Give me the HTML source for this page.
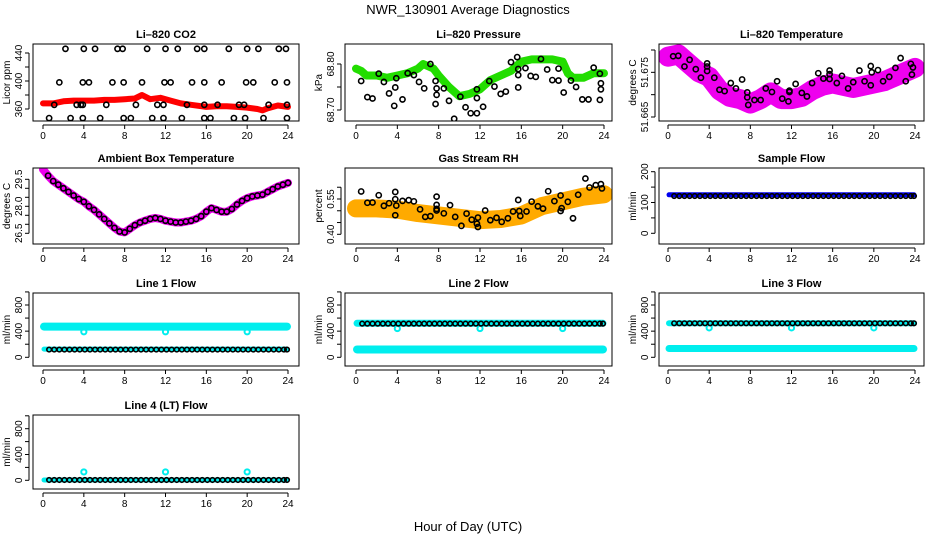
<!DOCTYPE html>
<html><head><meta charset="utf-8">
<style>
html,body{margin:0;padding:0;background:#fff;}
svg{display:block;font-family:"Liberation Sans",sans-serif;}
</style></head>
<body>
<svg id="chart" width="936" height="540" viewBox="0 0 936 540">
<text x="468" y="14" text-anchor="middle" font-size="13">NWR_130901  Average Diagnostics</text>
<text x="468" y="531" text-anchor="middle" font-size="13">Hour of Day (UTC)</text>
</svg>
<script>
// ---------- data ----------
const xTickHours = [0,4,8,12,16,20,24];

// CO2
const co2BandHours = [0,1,2,3,4,5,6,7,8,9,9.7,10.5,11.5,12.5,13.5,14.5,16,17,18,19,20,21,21.5,22,23,24];
const co2BandVals  = [368,368,371,372,372,372,373,373,374,375,380,374,376,372,368,366,363,364,364,363,362,360,358,361,365,363];
const co2PtHours = [2.2,4,5.1,7.3,7.8,10.2,12,13.2,15.1,15.8,18.2,20,21.1,23.1,23.8,
  1.6,3.9,4.5,6.8,7.9,9.7,11.9,12.5,14.6,15.8,17.5,19.9,20.6,22.7,23.9,
  1.1,3.3,3.7,3.9,6.2,9.1,11.2,11.8,14.1,15.8,17.1,19.2,19.7,22.1,23.9,
  0.6,2.7,3.9,5.6,7.9,8.6,10.7,11.8,13.6,15.8,16.4,18.7,19.8,21.6,23.9];
const co2PtVals = [446,446,446,446,446,446,446,446,446,446,446,446,446,446,446,
  398,398,398,398,398,398,398,398,398,398,398,398,398,398,398,
  366,366,366,366,366,366,366,366,366,366,366,366,366,366,366,
  347,347,347,347,347,347,347,347,347,347,347,347,347,347,347];

// Pressure
const presBandHours = [0,0.5,1,2,3,4,5,6,6.5,7.5,8,9,10,11,12,13,14,15,16,17,18,19,20,20.5,21,22,23,24];
const presBandVals  = [68.79,68.785,68.775,68.775,68.77,68.775,68.78,68.79,68.80,68.79,68.775,68.75,68.73,68.735,68.745,68.765,68.775,68.785,68.805,68.81,68.81,68.81,68.805,68.78,68.77,68.77,68.78,68.78];
const presPtHours = [0.5,1.1,1.6,2.2,2.7,3.2,3.7,3.8,3.9,4.5,5.0,5.6,6.1,6.6,7.2,7.7,7.7,7.8,7.8,8.5,9.0,9.5,10.1,10.6,11.1,11.7,11.7,11.7,12.3,12.9,13.4,14.0,14.5,15.0,15.6,15.7,15.7,15.7,16.4,16.9,17.4,17.9,18.5,19.0,19.6,19.6,20.1,20.8,21.3,21.9,22.5,23.0,23.6,23.6,23.7,23.7];
const presPtVals = [68.763,68.728,68.725,68.779,68.761,68.736,68.709,68.749,68.769,68.723,68.780,68.776,68.761,68.747,68.800,68.763,68.713,68.733,68.747,68.747,68.720,68.681,68.729,68.706,68.693,68.693,68.726,68.745,68.707,68.763,68.751,68.735,68.740,68.804,68.815,68.789,68.749,68.776,68.791,68.774,68.772,68.811,68.788,68.765,68.764,68.790,68.738,68.764,68.750,68.723,68.723,68.792,68.779,68.722,68.745,68.758];

// Li-820 Temperature
const tempBandHours = [0,1,2,3,4,5,6,7,8,9,10,11,12,13,14,15,16,17,18,19,20,21,22,23,24];
const tempBandVals  = [51.6785,51.679,51.677,51.675,51.674,51.671,51.6695,51.669,51.668,51.669,51.6705,51.669,51.669,51.6695,51.671,51.672,51.6725,51.672,51.6715,51.672,51.6725,51.673,51.674,51.675,51.676];
const tempPtHours = [0.5,1.0,1.6,2.1,2.7,3.2,3.8,3.8,3.8,4.5,5.0,5.5,6.1,6.6,7.2,7.7,7.7,7.8,8.4,9.0,9.5,10.1,10.6,11.1,11.7,11.8,11.8,12.4,13.0,13.5,14.0,14.6,15.1,15.7,15.7,15.7,16.4,16.9,17.5,18.0,18.6,19.1,19.7,19.7,19.8,20.4,20.9,21.5,22.1,22.6,23.1,23.6,23.7,23.8];
const tempPtVals = [51.6786,51.6787,51.6763,51.6778,51.6757,51.6738,51.6770,51.6763,51.6753,51.6738,51.6711,51.6708,51.6726,51.6714,51.6734,51.6705,51.6694,51.6677,51.6688,51.6688,51.6714,51.6706,51.6730,51.6691,51.6685,51.6709,51.6706,51.6724,51.6704,51.6696,51.6726,51.6748,51.6736,51.6735,51.6746,51.6754,51.6726,51.6742,51.6714,51.6728,51.6754,51.6730,51.6721,51.6764,51.6750,51.6755,51.6730,51.6740,51.6760,51.6782,51.6730,51.6769,51.6745,51.6761];

// Ambient box temperature (half-hour)
const ambHours = [0,0.5,1,1.5,2,2.5,3,3.5,4,4.5,5,5.5,6,6.5,7,7.5,8,8.5,9,9.5,10,10.5,11,11.5,12,12.5,13,13.5,14,14.5,15,15.5,16,16.5,17,17.5,18,18.5,19,19.5,20,20.5,21,21.5,22,22.5,23,23.5,24];
const ambVals  = [30.05,29.7,29.4,29.2,29.0,28.8,28.6,28.4,28.25,28.0,27.8,27.55,27.3,27.05,26.8,26.6,26.55,
  26.75,26.95,27.1,27.2,27.3,27.35,27.3,27.2,27.15,27.1,27.1,27.15,27.2,27.3,27.45,27.7,
  27.9,27.8,27.7,27.7,27.85,28.1,28.3,28.45,28.55,28.6,28.65,28.8,28.95,29.1,29.2,29.3];

// Gas stream RH
const rhBandHours = [0,2,4,6,8,10,12,14,16,18,20,22,24];
const rhBandVals  = [0.51,0.51,0.505,0.49,0.48,0.47,0.46,0.465,0.48,0.52,0.54,0.56,0.57];
const rhPtHours = [0.5,1.1,1.6,2.2,2.7,3.2,3.8,3.8,3.9,3.8,4.5,5.1,5.6,6.2,6.7,7.2,7.8,7.8,7.8,7.8,8.5,9.1,9.6,10.2,10.7,11.2,11.7,11.8,11.8,12.5,13.0,13.6,14.1,14.7,15.2,15.7,15.8,15.9,16.5,17.0,17.6,18.1,18.6,19.2,19.8,19.8,19.9,20.5,21.0,21.5,22.2,22.6,23.2,23.7,23.8];
const rhPtVals = [0.582,0.534,0.535,0.566,0.521,0.532,0.580,0.549,0.522,0.481,0.542,0.545,0.540,0.506,0.474,0.477,0.560,0.525,0.508,0.501,0.489,0.524,0.474,0.436,0.488,0.462,0.445,0.471,0.431,0.501,0.460,0.470,0.453,0.468,0.497,0.546,0.499,0.478,0.497,0.539,0.519,0.509,0.583,0.541,0.565,0.499,0.511,0.538,0.468,0.568,0.637,0.599,0.609,0.613,0.595];

// Flows
const flowHours = [0.6,1.1,1.6,2.1,2.6,3.1,3.6,4.1,4.6,5.1,5.6,6.1,6.6,7.1,7.6,8.1,8.6,9.1,9.6,10.1,10.6,11.1,11.6,12.1,12.6,13.1,13.6,14.1,14.6,15.1,15.6,16.1,16.6,17.1,17.6,18.1,18.6,19.1,19.6,20.1,20.6,21.1,21.6,22.1,22.6,23.1,23.6,23.9];
const bandEnds = [0.1,23.9];
const outlierHours = [4,12,20];
const sampleBlue = [125,125];
const sampleBlack = Array(48).fill(121);
const line1CyanHi = [470,470];
const line1CyanLo = [125,125];
const line1Black = Array(48).fill(118);
const line1Out = [390,390,390];
const line2CyanHi = [520,520];
const line2CyanLo = [120,120];
const line2Black = Array(48).fill(515);
const line2Out = [440,440,440];
const line3CyanHi = [520,520];
const line3CyanLo = [135,135];
const line3Black = Array(48).fill(520);
const line3Out = [450,450,450];
const line4Cyan = [5,5];
const line4Black = Array(48).fill(5);
const line4Out = [130,130,130];

// ---------- drawing ----------
const svg = document.getElementById('chart');
const NS = 'http://www.w3.org/2000/svg';
function mk(tag, parent){ const e=document.createElementNS(NS,tag); parent.appendChild(e); return e; }

const cols = [{l:33,r:299,x0:43,x24:288},{l:345,r:612,x0:356,x24:604},{l:659,r:924,x0:668,x24:915}];
const rows = [{t:44,b:121},{t:168,b:244},{t:293,b:366},{t:415,b:489}];

function panel(opt){
  const c=cols[opt.col], r=rows[opt.row];
  const g=mk('g',svg);
  
  
  const sx=h=>c.x0+(h/24)*(c.x24-c.x0);
  const sy=v=>opt.p1+(v-opt.v1)*(opt.p2-opt.p1)/(opt.v2-opt.v1);
  const clip=mk('clipPath',g); clip.setAttribute('id','clip'+opt.name);
  const cr=mk('rect',clip); cr.setAttribute('x',c.l); cr.setAttribute('y',r.t); cr.setAttribute('width',c.r-c.l); cr.setAttribute('height',r.b-r.t);
  const plot=mk('g',g); plot.setAttribute('clip-path','url(#clip'+opt.name+')');
  const P={g:plot,sx,sy};
  opt.draw(P);
  const fr=mk('rect',g);
  
  
  fr.setAttribute('x',c.l); fr.setAttribute('y',r.t); fr.setAttribute('width',c.r-c.l); fr.setAttribute('height',r.b-r.t);
  fr.setAttribute('fill','none'); fr.setAttribute('stroke','#000'); fr.setAttribute('stroke-width','1');
  const t=mk('text',g);
  
  
  t.setAttribute('x',(c.l+c.r)/2); t.setAttribute('y',r.t-6); t.setAttribute('text-anchor','middle');
  t.setAttribute('font-size','11'); t.setAttribute('font-weight','bold'); t.textContent=opt.title;
  const xa=mk('g',g);
  
  
  const xl=mk('line',xa); xl.setAttribute('x1',sx(0)); xl.setAttribute('x2',sx(24)); xl.setAttribute('y1',r.b+4); xl.setAttribute('y2',r.b+4); xl.setAttribute('stroke','#000');
  xTickHours.forEach(h=>{
    const tk=mk('line',xa); tk.setAttribute('x1',sx(h)); tk.setAttribute('x2',sx(h)); tk.setAttribute('y1',r.b+4); tk.setAttribute('y2',r.b+8); tk.setAttribute('stroke','#000');
    const tl=mk('text',xa);
    
    
    tl.setAttribute('x',sx(h)); tl.setAttribute('y',r.b+18); tl.setAttribute('text-anchor','middle'); tl.setAttribute('font-size','10'); tl.textContent=h;
  });
  const ya=mk('g',g);
  
  
  const yl=mk('line',ya); yl.setAttribute('x1',c.l-4); yl.setAttribute('x2',c.l-4); yl.setAttribute('y1',sy(opt.ticks[0])); yl.setAttribute('y2',sy(opt.ticks[opt.ticks.length-1])); yl.setAttribute('stroke','#000');
  opt.ticks.forEach(v=>{
    const tk=mk('line',ya); tk.setAttribute('x1',c.l-8); tk.setAttribute('x2',c.l-4); tk.setAttribute('y1',sy(v)); tk.setAttribute('y2',sy(v)); tk.setAttribute('stroke','#000');
  });
  opt.labels.forEach((lab,i)=>{
    const y=sy(opt.labelVals[i]);
    const tl=mk('text',ya);
    
    
    tl.setAttribute('transform','translate('+(c.l-11)+','+y+') rotate(-90)'); tl.setAttribute('text-anchor','middle'); tl.setAttribute('font-size','10'); tl.textContent=lab;
  });
  const yt=mk('text',ya);
  
  
  yt.setAttribute('transform','translate('+(c.l-23)+','+((r.t+r.b)/2)+') rotate(-90)'); yt.setAttribute('text-anchor','middle'); yt.setAttribute('font-size','10'); yt.textContent=opt.ylab;
}

function band(P,hs,vs,color,w,name){
  const pl=mk('polyline',P.g);
  
  
  pl.setAttribute('points',hs.map((h,i)=>P.sx(h)+','+P.sy(vs[i])).join(' '));
  pl.setAttribute('fill','none'); pl.setAttribute('stroke',color); pl.setAttribute('stroke-width',w);
  pl.setAttribute('stroke-linejoin','round'); pl.setAttribute('stroke-linecap','round');
}
function pts(P,hs,vs,color,name,rad,sw){
  hs.forEach((h,i)=>{
    const c=mk('circle',P.g);
    
    
    c.setAttribute('cx',P.sx(h)); c.setAttribute('cy',P.sy(vs[i])); c.setAttribute('r',rad||2.6);
    c.setAttribute('fill','none'); c.setAttribute('stroke',color); c.setAttribute('stroke-width',sw||1.6);
  });
}

panel({name:'co2-panel',col:0,row:0,title:'Li\u2013820 CO2',ylab:'Licor ppm',v1:360,p1:109,v2:400,p2:81,
  ticks:[360,380,400,420,440],labels:['360','400','440'],labelVals:[360,400,440],
  draw:P=>{ band(P,co2BandHours,co2BandVals,'#ff0000',6,'co2-band'); pts(P,co2PtHours,co2PtVals,'#000','co2-average-point'); }});
panel({name:'pressure-panel',col:1,row:0,title:'Li\u2013820 Pressure',ylab:'kPa',v1:68.70,p1:110,v2:68.80,p2:64,
  ticks:[68.70,68.75,68.80],labels:['68.70','68.80'],labelVals:[68.70,68.80],
  draw:P=>{ band(P,presBandHours,presBandVals,'#22dd00',8,'pressure-band'); pts(P,presPtHours,presPtVals,'#000','pressure-average-point'); }});
panel({name:'temperature-panel',col:2,row:0,title:'Li\u2013820 Temperature',ylab:'degrees C',v1:51.665,p1:117,v2:51.680,p2:50,
  ticks:[51.665,51.670,51.675,51.680],labels:['51.665','51.675'],labelVals:[51.665,51.675],
  draw:P=>{ band(P,tempBandHours,tempBandVals,'#ee00ee',20,'temperature-band'); pts(P,tempPtHours,tempPtVals,'#000','temperature-average-point'); }});
panel({name:'ambient-panel',col:0,row:1,title:'Ambient Box Temperature',ylab:'degrees C',v1:26.5,p1:233.3,v2:29.5,p2:179.3,
  ticks:[26.5,27,27.5,28,28.5,29,29.5],labels:['26.5','28.0','29.5'],labelVals:[26.5,28,29.5],
  draw:P=>{ band(P,ambHours,ambVals,'#ee00ee',8,'ambient-band'); pts(P,ambHours.slice(1),ambVals.slice(1),'#000','ambient-average-point'); }});
panel({name:'rh-panel',col:1,row:1,title:'Gas Stream RH',ylab:'percent',v1:0.40,p1:234.3,v2:0.55,p2:199,
  ticks:[0.40,0.45,0.50,0.55,0.60],labels:['0.40','0.55'],labelVals:[0.40,0.55],
  draw:P=>{ band(P,rhBandHours,rhBandVals,'#ffaa00',18,'rh-band'); pts(P,rhPtHours,rhPtVals,'#000','rh-average-point'); }});
panel({name:'sample-flow-panel',col:2,row:1,title:'Sample Flow',ylab:'ml/min',v1:0,p1:233.3,v2:200,p2:171.7,
  ticks:[0,50,100,150,200],labels:['0','100','200'],labelVals:[0,100,200],
  draw:P=>{ band(P,bandEnds,sampleBlue,'#0000ee',5,'sample-flow-band'); pts(P,flowHours,sampleBlack,'#000','sample-flow-point',2.3); }});
const fr3={v1:0,p1:357.3,v2:800,p2:305,ticks:[0,200,400,600,800,1000],labels:['0','400','800'],labelVals:[0,400,800]};
panel(Object.assign({name:'line1-flow-panel',col:0,row:2,title:'Line 1 Flow',ylab:'ml/min',
  draw:P=>{ band(P,bandEnds,line1CyanHi,'#00eeee',8,'line1-cyan-band'); band(P,bandEnds,line1CyanLo,'#00eeee',5,'line1-cyan-low'); pts(P,outlierHours,line1Out,'#00eeee','line1-outlier',2.6,2); pts(P,flowHours,line1Black,'#000','line1-point',2.3); }},fr3));
panel(Object.assign({name:'line2-flow-panel',col:1,row:2,title:'Line 2 Flow',ylab:'ml/min',
  draw:P=>{ band(P,bandEnds,line2CyanHi,'#00eeee',7,'line2-cyan-band'); band(P,bandEnds,line2CyanLo,'#00eeee',8,'line2-cyan-low'); pts(P,outlierHours,line2Out,'#00eeee','line2-outlier',2.6,2); pts(P,flowHours,line2Black,'#000','line2-point',2.3); }},fr3));
panel(Object.assign({name:'line3-flow-panel',col:2,row:2,title:'Line 3 Flow',ylab:'ml/min',
  draw:P=>{ band(P,bandEnds,line3CyanHi,'#00eeee',6,'line3-cyan-band'); band(P,bandEnds,line3CyanLo,'#00eeee',7,'line3-cyan-low'); pts(P,outlierHours,line3Out,'#00eeee','line3-outlier',2.6,2); pts(P,flowHours,line3Black,'#000','line3-point',2.3); }},fr3));
panel({name:'line4-flow-panel',col:0,row:3,title:'Line 4 (LT) Flow',ylab:'ml/min',v1:0,p1:480.3,v2:800,p2:428.7,
  ticks:[0,200,400,600,800,1000],labels:['0','400','800'],labelVals:[0,400,800],
  draw:P=>{ band(P,bandEnds,line4Cyan,'#00eeee',5,'line4-cyan-band'); pts(P,outlierHours,line4Out,'#00eeee','line4-outlier',2.6,2); pts(P,flowHours,line4Black,'#000','line4-point',2.3); }});
</script>
</body></html>
